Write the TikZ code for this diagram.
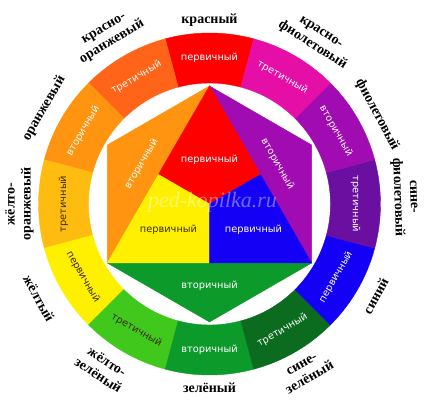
\documentclass[tikz,border=0pt]{standalone}
\usepackage{fontspec}
\usetikzlibrary{calc}
\setmainfont{Liberation Serif}
\newfontfamily\lblfont{DejaVu Sans}
\definecolor{krasn}{HTML}{FF0000}
\definecolor{krasnor}{HTML}{FF6418}
\definecolor{oranzh}{HTML}{FF9410}
\definecolor{zheltor}{HTML}{FFBC10}
\definecolor{zhelt}{HTML}{FFF000}
\definecolor{zheltzel}{HTML}{40C81C}
\definecolor{zel}{HTML}{0C9A2A}
\definecolor{sinzel}{HTML}{0B6B1F}
\definecolor{sin}{HTML}{1400F5}
\definecolor{sinfiol}{HTML}{6A0FA0}
\definecolor{fiol}{HTML}{A00BB2}
\definecolor{krasnfiol}{HTML}{E50FA8}
\definecolor{darktext}{HTML}{3A2A10}

\begin{document}
\begin{tikzpicture}[x=1pt,y=1pt,
    ringtxt/.style={font=\lblfont\fontsize{9.8}{10}\selectfont, text=white, inner sep=0pt},
    darktxt/.style={ringtxt, text=darktext},
    nametxt/.style={font=\bfseries\fontsize{14}{16}\selectfont, align=center, inner sep=0pt}]
    \useasboundingbox (-209.5,-200) rectangle (214.5,204);

    % outer ring
    \filldraw[fill=krasn,draw=krasn] (75:121) arc[start angle=75,end angle=105,radius=121] -- (105:171) arc[start angle=105,end angle=75,radius=171] -- cycle;
    \filldraw[fill=krasnor,draw=krasnor] (105:121) arc[start angle=105,end angle=135,radius=121] -- (135:171) arc[start angle=135,end angle=105,radius=171] -- cycle;
    \filldraw[fill=oranzh,draw=oranzh] (135:121) arc[start angle=135,end angle=165,radius=121] -- (165:171) arc[start angle=165,end angle=135,radius=171] -- cycle;
    \filldraw[fill=zheltor,draw=zheltor] (165:121) arc[start angle=165,end angle=195,radius=121] -- (195:171) arc[start angle=195,end angle=165,radius=171] -- cycle;
    \filldraw[fill=zhelt,draw=zhelt] (195:121) arc[start angle=195,end angle=225,radius=121] -- (225:171) arc[start angle=225,end angle=195,radius=171] -- cycle;
    \filldraw[fill=zheltzel,draw=zheltzel] (225:121) arc[start angle=225,end angle=255,radius=121] -- (255:171) arc[start angle=255,end angle=225,radius=171] -- cycle;
    \filldraw[fill=zel,draw=zel] (255:121) arc[start angle=255,end angle=285,radius=121] -- (285:171) arc[start angle=285,end angle=255,radius=171] -- cycle;
    \filldraw[fill=sinzel,draw=sinzel] (285:121) arc[start angle=285,end angle=315,radius=121] -- (315:171) arc[start angle=315,end angle=285,radius=171] -- cycle;
    \filldraw[fill=sin,draw=sin] (315:121) arc[start angle=315,end angle=345,radius=121] -- (345:171) arc[start angle=345,end angle=315,radius=171] -- cycle;
    \filldraw[fill=sinfiol,draw=sinfiol] (-15:121) arc[start angle=-15,end angle=15,radius=121] -- (15:171) arc[start angle=15,end angle=-15,radius=171] -- cycle;
    \filldraw[fill=fiol,draw=fiol] (15:121) arc[start angle=15,end angle=45,radius=121] -- (45:171) arc[start angle=45,end angle=15,radius=171] -- cycle;
    \filldraw[fill=krasnfiol,draw=krasnfiol] (45:121) arc[start angle=45,end angle=75,radius=121] -- (75:171) arc[start angle=75,end angle=45,radius=171] -- cycle;

    % hexagon
    \coordinate (t) at (90:118);
    \coordinate (ul) at (150:118);
    \coordinate (ll) at (210:118);
    \coordinate (b) at (270:118);
    \coordinate (lr) at (330:118);
    \coordinate (ur) at (30:118);
    \coordinate (o) at (0,0);
    \coordinate (ml) at ($(t)!0.5!(ll)$);
    \coordinate (mr) at ($(t)!0.5!(lr)$);
    \coordinate (mb) at ($(ll)!0.5!(lr)$);
    \filldraw[fill=oranzh,draw=oranzh] (t) -- (ul) -- (ll) -- cycle;
    \filldraw[fill=fiol,draw=fiol] (t) -- (ur) -- (lr) -- cycle;
    \filldraw[fill=zel,draw=zel] (ll) -- (b) -- (lr) -- cycle;
    \filldraw[fill=krasn,draw=krasn] (t) -- (ml) -- (o) -- (mr) -- cycle;
    \filldraw[fill=zhelt,draw=zhelt] (ml) -- (ll) -- (mb) -- (o) -- cycle;
    \filldraw[fill=sin,draw=sin] (o) -- (mb) -- (lr) -- (mr) -- cycle;

    % ring labels
    \node[ringtxt] (r1) at (90:146) {первичный};
    \node[ringtxt,rotate=30] (r2) at (120:146) {третичный};
    \node[ringtxt,rotate=60] (r3) at (150:146) {вторичный};
    \node[darktxt,rotate=90] (r4) at (180:146) {третичный};
    \node[darktxt,rotate=-60] (r5) at (210:146) {первичный};
    \node[darktxt,rotate=-30] (r6) at (240:146) {третичный};
    \node[ringtxt] (r7) at (270:146) {вторичный};
    \node[ringtxt,rotate=30] (r8) at (300:146) {третичный};
    \node[ringtxt,rotate=60] (r9) at (330:146) {первичный};
    \node[ringtxt,rotate=-90] (r10) at (0:146) {третичный};
    \node[ringtxt,rotate=-60] (r11) at (30:146) {вторичный};
    \node[ringtxt,rotate=-30] (r12) at (60:146) {третичный};

    % hexagon labels
    \node[ringtxt] (h1) at (0,44) {первичный};
    \node[darktxt] (h2) at (-41,-26) {первичный};
    \node[ringtxt] (h3) at (44,-26) {первичный};
    \node[ringtxt,rotate=60] (h4) at (-68,40) {вторичный};
    \node[ringtxt,rotate=-60] (h5) at (68,40) {вторичный};
    \node[ringtxt] (h6) at (0,-82) {вторичный};

    \node[font=\itshape\fontsize{22}{22}\selectfont, text=white, opacity=0.4] (wm) at (3,2) {ped-kopilka.ru};

    % colour names
    \node[nametxt] (n1) at (90:184) {красный};
    \node[nametxt,rotate=31] (n2) at (121:196) {красно-\\оранжевый};
    \node[nametxt,rotate=60] (n3) at (150:191) {оранжевый};
    \node[nametxt,rotate=90] (n4) at (180:190) {жёлто-\\оранжевый};
    \node[nametxt,rotate=-61] (n5) at (209:195) {жёлтый};
    \node[nametxt,rotate=-33] (n6) at (237:196) {жёлто-\\зелёный};
    \node[nametxt] (n7) at (270:184) {зелёный};
    \node[nametxt,rotate=30] (n8) at (300:193) {сине-\\зелёный};
    \node[nametxt,rotate=61] (n9) at (331:190) {синий};
    \node[nametxt,rotate=-88] (n10) at (2:195) {сине-\\фиолетовый};
    \node[nametxt,rotate=-62] (n11) at (28:190) {фиолетовый};
    \node[nametxt,rotate=-33] (n12) at (57:196) {красно-\\фиолетовый};
\end{tikzpicture}
\end{document}
